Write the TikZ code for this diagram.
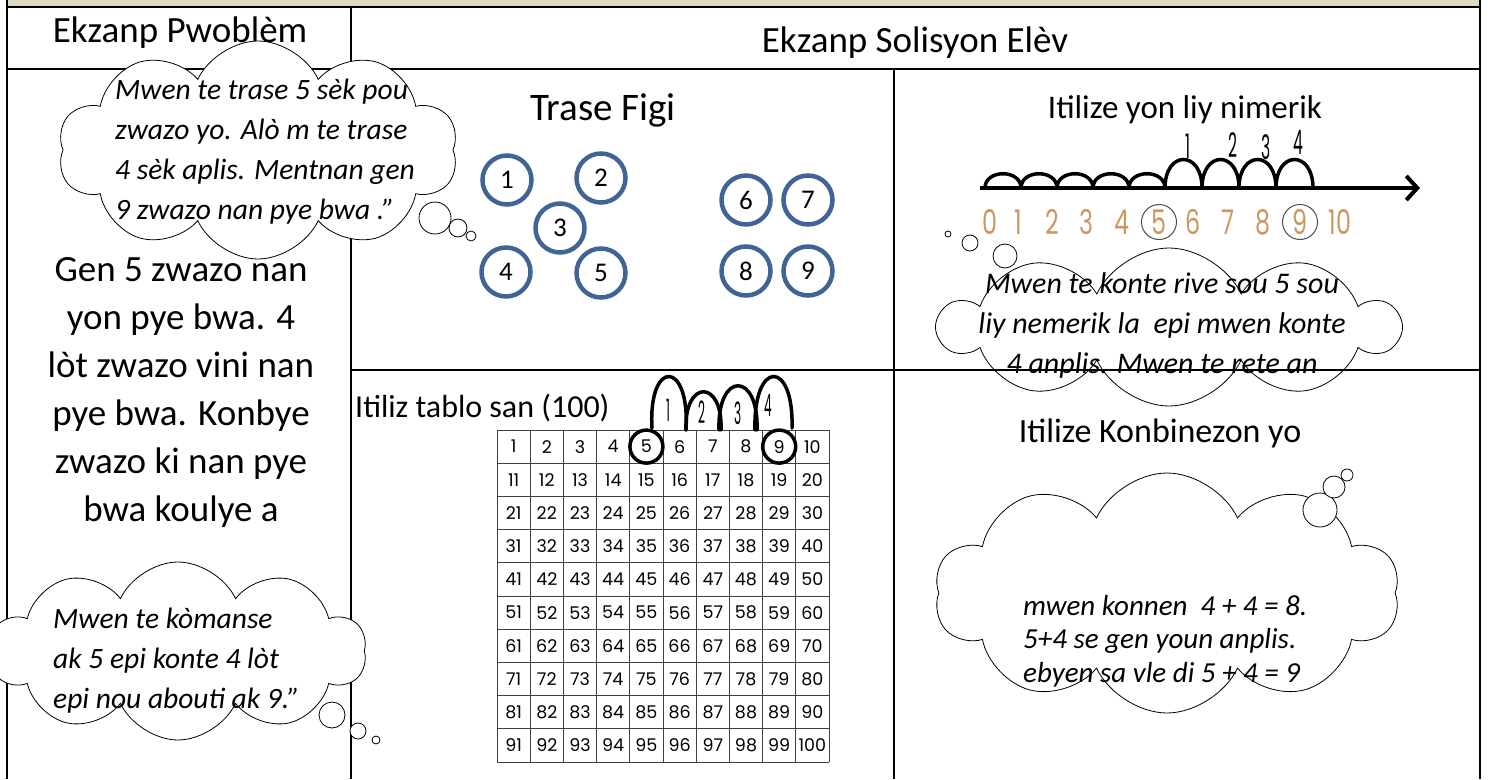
\documentclass[tikz,border=0pt]{standalone}
\usepackage{fontspec}
\setmainfont{Carlito}
\newfontfamily\kidfont{Poppins}
\usetikzlibrary{shapes.symbols, arrows.meta}

\definecolor{figblue}{RGB}{65,100,150}
\definecolor{bandbeige}{RGB}{221,217,195}
\definecolor{linetan}{RGB}{204,150,96}

\newcommand{\fs}[2]{\fontsize{#1}{#2}\selectfont}

\tikzset{
	frame/.style = {line width = 2.8pt},
	rule/.style = {line width = 1.8pt},
	thought/.style = {cloud, draw, fill = white, cloud puffs = 10, cloud puff arc = 130, cloud ignores aspect, inner sep = 0pt, line width = 0.8pt},
	bubble/.style = {draw, fill = white, line width = 0.8pt},
	saying/.style = {font = \fs{29.5}{40}\itshape, align = left, inner sep = 0pt},
	title/.style = {font = \fs{37}{40}, inner sep = 0pt},
	fig/.style = {circle, draw = figblue, line width = 4.5pt, minimum size = 49pt, inner sep = 0pt, font = \fs{27}{27}},
	hump/.style = {line width = 3.5pt, line cap = round},
	jot/.style = {font = \kidfont\fs{26}{26}, inner sep = 0pt},
	tick/.style = {font = \kidfont\fs{34}{34}, text = linetan, inner sep = 0pt},
	cellnum/.style = {font = \kidfont\fs{17.5}{17.5}, inner sep = 0pt},
	ring/.style = {circle, draw, line width = 3.5pt, minimum size = 33pt, inner sep = 0pt},
}

\begin{document}
\begin{tikzpicture}[x = 1pt, y = -1pt]
	\useasboundingbox (0, 0) rectangle (1488, 779);
	
	%	tablo
	\fill[bandbeige] (7, 0) rectangle (1480, 7);
	\draw[frame] (7, 0) -- (7, 779);
	\draw[frame] (1480, 0) -- (1480, 779);
	\draw[frame] (7, 7) -- (1480, 7);
	\draw[rule] (7, 69) -- (1480, 69);
	\draw[rule] (351, 7) -- (351, 779);
	\draw[rule, line width = 1.5pt] (894, 69) -- (894, 779);
	
	%	tit
	\node[title] (hdA) at (180, 33) {Ekzanp Pwoblèm};
	\node[title] (hdB) at (915, 43) {Ekzanp Solisyon Elèv};
	
	%	pwoblèm
	\node[font = \fs{37}{48}, align = center, inner sep = 0pt] (prob) at (181, 392)
		{Gen 5 zwazo nan\\yon pye bwa. 4\\lòt zwazo vini nan\\pye bwa. Konbye\\zwazo ki nan pye\\bwa koulye a};
	
	%	nwaj 1
	\node[thought, minimum width = 400pt, minimum height = 218pt] (talkA) at (258, 150) {};
	\draw[bubble] (435, 218) circle[radius = 16pt];
	\draw[bubble] (458, 228) circle[radius = 9pt];
	\draw[bubble] (471, 236) circle[radius = 5pt];
	\node[saying, anchor = west] (sayA) at (115, 152)
		{Mwen te trase 5 sèk pou\\zwazo yo. Alò m te trase\\4 sèk aplis. Mentnan gen\\9 zwazo nan pye bwa .”};
	
	%	nwaj 2
	\node[thought, minimum width = 376pt, minimum height = 178pt] (talkB) at (178, 651) {};
	\draw[bubble] (332, 715) circle[radius = 13pt];
	\draw[bubble] (358, 731) circle[radius = 8pt];
	\draw[bubble] (376, 740) circle[radius = 4pt];
	\node[saying, anchor = west] (sayB) at (53, 661)
		{Mwen te kòmanse\\ak 5 epi konte 4 lòt\\epi nou abouti ak 9.”};
	
	%	trase figi
	\node[title, font = \fs{39}{40}] (figT) at (603, 110) {Trase Figi};
	\foreach \xx/\yy [count = \k] in {507/180, 601/178, 560/228, 506/272, 601/273, 746/200, 808/200, 746/271, 808/271}
		\node[fig] (f\k) at (\xx, \yy) {\k};
	
	%	liy nimerik
	\node[title, font = \fs{33}{40}] (lineT) at (1185, 110) {Itilize yon liy nimerik};
	\coordinate (nlA) at (980, 188);
	\coordinate (nlB) at (1420, 188);
	\draw[line width = 4pt, -{Straight Barb[length = 11pt, width = 24pt]}] (nlA) -- (nlB);
	\foreach \i in {0, ..., 4}
		\draw[hump] (985 + 36*\i, 188) .. controls (985 + 36*\i, 169) and (1021 + 36*\i, 169) .. (1021 + 36*\i, 188);
	\foreach \i in {0, ..., 3}
		\draw[hump] (1165 + 37*\i, 188) .. controls (1165 + 37*\i, 150) and (1202 + 37*\i, 150) .. (1202 + 37*\i, 188);
	\foreach \xx/\yy [count = \k] in {1188/146, 1233/145, 1266/147, 1298/142}
		\node[jot] (up\k) at (\xx, \yy) {\scalebox{0.6}[1.3]{\k}};
	\foreach \xx [count = \d from 0] in {990, 1018, 1052, 1086, 1122, 1159, 1193, 1228, 1263, 1300, 1340}
		\node[tick] (n\d) at (\xx, 222) {\scalebox{0.7}[1]{\d}};
	\node[circle, draw = black!70, line width = 1pt, minimum size = 35pt] (ringA) at (n5) {};
	\node[circle, draw = black!70, line width = 1pt, minimum size = 35pt] (ringB) at (n9) {};
	
	%	nwaj 3
	\node[thought, minimum width = 458pt, minimum height = 158pt] (talkC) at (1169, 327) {};
	\draw[bubble] (1005, 256) circle[radius = 12pt];
	\draw[bubble] (970, 243) circle[radius = 8pt];
	\draw[bubble] (948, 234) circle[radius = 3pt];
	\node[saying, font = \fs{30}{40}\itshape, align = center] (sayC) at (1162, 325)
		{Mwen te konte rive sou 5 sou\\liy nemerik la\ \ epi mwen konte\\4 anplis. Mwen te rete an};
	\draw[rule] (351, 370) -- (1480, 370);
	
	%	tablo san
	\node[title, font = \fs{32}{40}, anchor = west] (gridT) at (355, 408) {Itiliz tablo san (100)};
	\def\gx{497}
	\def\gy{430}
	\def\gs{33.2}
	\foreach \k in {0, ..., 10} {
		\draw[black!75, line width = 1pt] (\gx + \gs*\k, \gy) -- (\gx + \gs*\k, \gy + 10*\gs);
		\draw[black!75, line width = 1pt] (\gx, \gy + \gs*\k) -- (\gx + 10*\gs, \gy + \gs*\k);
	}
	\foreach \r in {0, ..., 9}
		\foreach \c in {1, ..., 10} {
			\pgfmathtruncatemacro\n{10*\r + \c}
			\node[cellnum] (h\n) at (\gx + \gs*\c - \gs/2, \gy + \gs*\r + \gs/2) {\n};
		}
	\node[ring] (ringC) at (h5) {};
	\node[ring] (ringD) at (h9) {};
	\draw[hump] (652, 428) .. controls (648, 359) and (690, 359) .. (686, 430);
	\draw[hump] (686, 430) .. controls (684, 379) and (723, 379) .. (721, 430);
	\draw[hump] (719, 430) .. controls (717, 371) and (759, 371) .. (757, 430);
	\draw[hump] (755, 430) .. controls (753, 359) and (794, 359) .. (792, 428);
	\foreach \xx/\yy [count = \k] in {668/410, 702/412, 738/413, 768/405}
		\node[jot, font = \kidfont\fs{22}{22}] (arc\k) at (\xx, \yy) {\scalebox{0.55}[1.4]{\k}};
	
	%	konbinezon
	\node[title, font = \fs{34}{40}] (combT) at (1160, 433) {Itilize Konbinezon yo};
	\node[thought, minimum width = 465pt, minimum height = 240pt] (talkD) at (1167, 593) {};
	\draw[bubble] (1320, 510) circle[radius = 17pt];
	\draw[bubble] (1334, 487) circle[radius = 11pt];
	\draw[bubble] (1347, 475) circle[radius = 6pt];
	\node[saying, font = \fs{29}{33.5}\itshape, anchor = west] (sayD) at (1023, 641)
		{mwen konnen\ \ 4 + 4 = 8.\\5+4 se gen youn anplis.\\ebyen sa vle di 5 + 4 = 9};
\end{tikzpicture}
\end{document}
